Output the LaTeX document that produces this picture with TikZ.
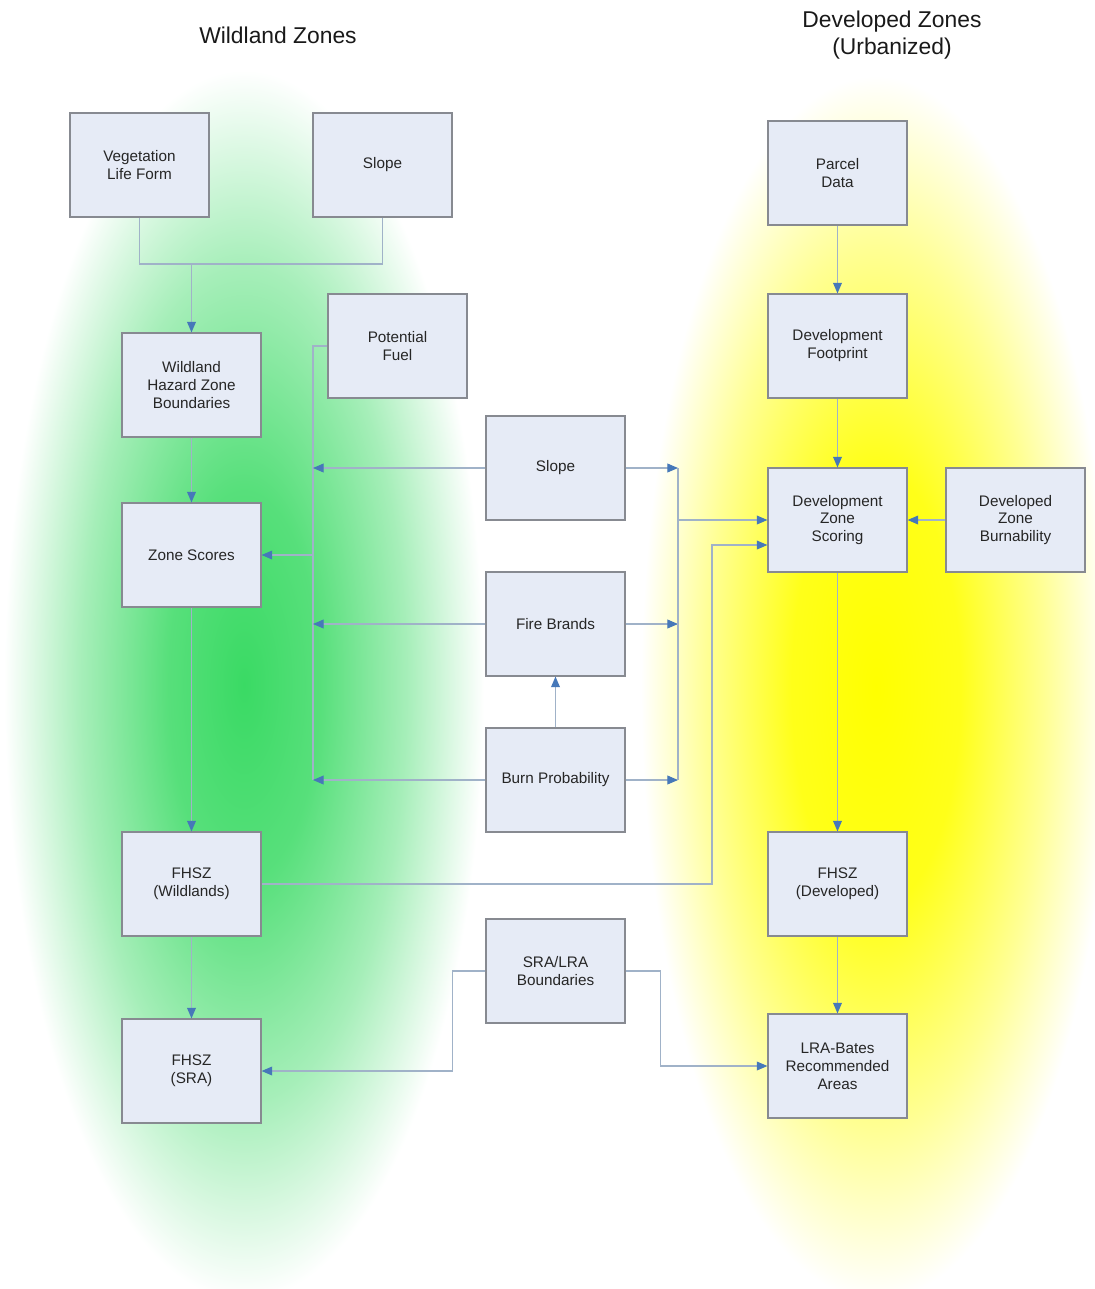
\documentclass[tikz,border=0pt]{standalone}
\usepackage{fontspec}
\setmainfont{Liberation Sans}
\usepackage{tikz}
\usetikzlibrary{arrows.meta,shapes,calc}

\definecolor{glowgreen}{RGB}{58,218,100}
\definecolor{glowyellow}{RGB}{255,255,0}
\definecolor{boxfill}{RGB}{230,235,246}
\definecolor{boxline}{RGB}{135,138,145}
\definecolor{connline}{RGB}{160,178,200}
\definecolor{tipblue}{RGB}{70,120,185}

\pgfdeclareradialshading{greenglow}{\pgfpoint{0bp}{0bp}}{color(0bp)=(glowgreen); color(8bp)=(glowgreen!85!white); color(17bp)=(glowgreen!45!white); color(25bp)=(white); color(50bp)=(white)}
\pgfdeclareradialshading{yellowglow}{\pgfpoint{0bp}{0bp}}{color(0bp)=(glowyellow); color(9bp)=(glowyellow!90!white); color(18bp)=(glowyellow!42!white); color(25bp)=(white); color(50bp)=(white)}

\begin{document}
\begin{tikzpicture}[x=0.02cm,y=-0.02cm,
  box/.style={draw=boxline, fill=boxfill, line width=0.7pt, minimum width=2.78cm, minimum height=2.08cm, align=center, font=\fontsize{8.7}{10.2}\selectfont, text=black!85},
  conn/.style={draw=connline, line width=0.6pt},
  arr/.style={conn, -{Triangle[length=6pt,width=5pt,color=tipblue]}},
  ttl/.style={align=center, font=\fontsize{13}{15.3}\selectfont, text=black!90}]
\useasboundingbox (0,0) rectangle (1095,1289);
\fill[white] (0,0) rectangle (1095,1289);

% glows behind the two columns
\shade[shading=greenglow] (244,685) ellipse (240 and 615);
\shade[shading=yellowglow] (876,688) ellipse (235 and 612);

\node (wtitle) at (278,35) [ttl] {Wildland Zones};
\node (dtitle) at (892,35) [ttl] {Developed Zones\\(Urbanized)};

% wildland column
\node (veg) at (139.5,165) [box] {Vegetation\\Life Form};
\node (slopeA) at (382.5,165) [box] {Slope};
\node (whz) at (191.5,385) [box] {Wildland\\Hazard Zone\\Boundaries};
\node (fuel) at (397.5,346) [box] {Potential\\Fuel};
\node (zone) at (191.5,555) [box] {Zone Scores};
\node (fhszw) at (191.5,884) [box] {FHSZ\\(Wildlands)};
\node (fhszs) at (191.5,1071) [box] {FHSZ\\(SRA)};

% middle column
\node (slopeB) at (555.5,468) [box] {Slope};
\node (fire) at (555.5,624) [box] {Fire Brands};
\node (burn) at (555.5,780) [box] {Burn Probability};
\node (sra) at (555.5,971) [box] {SRA/LRA\\Boundaries};

% developed column
\node (parcel) at (837.5,173) [box] {Parcel\\Data};
\node (foot) at (837.5,346) [box] {Development\\Footprint};
\node (dzs) at (837.5,520) [box] {Development\\Zone\\Scoring};
\node (dzb) at (1015.5,520) [box] {Developed\\Zone\\Burnability};
\node (fhszd) at (837.5,884) [box] {FHSZ\\(Developed)};
\node (lra) at (837.5,1066) [box] {LRA-Bates\\Recommended\\Areas};

\coordinate (merge) at (191.5,264);
\coordinate (busL) at (313,346);
\coordinate (busR) at (678,468);
\coordinate (jog) at (712,545);

\draw[conn] (veg.south) |- (merge) -| (slopeA.south);
\draw[arr] (merge) -- (whz.north);
\draw[arr] (whz) -- (zone);
\draw[arr] (zone) -- (fhszw);
\draw[arr] (fhszw) -- (fhszs);

\draw[conn] (fuel.west) -- (busL) -- (busL |- burn.west);
\draw[arr] (slopeB.west) -- (slopeB.west -| busL);
\draw[arr] (fire.west) -- (fire.west -| busL);
\draw[arr] (burn.west) -- (burn.west -| busL);
\draw[arr] (zone.east -| busL) -- (zone.east);

\draw[arr] (slopeB.east) -- (busR);
\draw[arr] (fire.east) -- (fire.east -| busR);
\draw[arr] (burn.east) -- (burn.east -| busR);
\draw[conn] (busR) -- (busR |- burn.east);
\draw[arr] (busR |- dzs.west) -- (dzs.west);
\draw[arr] (burn) -- (fire);

\draw[arr] (fhszw.east) -| (jog) -- (jog -| dzs.west);

\draw[arr] (parcel) -- (foot);
\draw[arr] (foot) -- (dzs);
\draw[arr] (dzb) -- (dzs);
\draw[arr] (dzs) -- (fhszd);
\draw[arr] (fhszd) -- (lra);

\draw[arr] (sra.west) -- ++(-33,0) |- (fhszs.east);
\draw[arr] (sra.east) -- ++(35,0) |- (lra.west);
\end{tikzpicture}
\end{document}
